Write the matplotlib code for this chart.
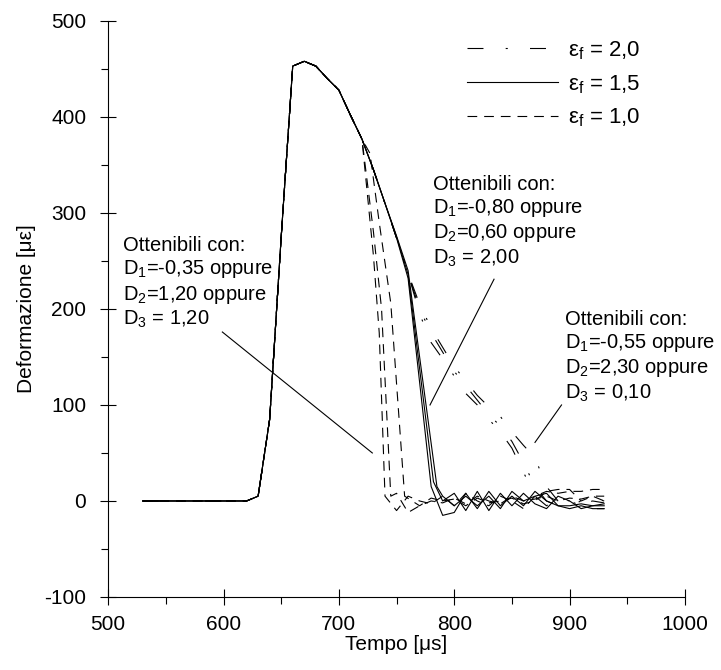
import matplotlib.pyplot as plt
from matplotlib.lines import Line2D

plt.rcParams['font.family'] = ['Liberation Sans', 'DejaVu Sans']
plt.rcParams['mathtext.default'] = 'regular'
plt.rcParams['lines.scale_dashes'] = False
plt.rcParams['axes.unicode_minus'] = False

# shared part of every curve
common_t = [530, 620, 630, 640, 650, 660, 670, 680, 690, 700, 710, 720]
common_v = [0, 0, 5, 85, 275, 453, 458, 453, 440, 428, 402, 377]
mid_t = [730, 740]
mid_v = [345, 310]

# eps_f = 1.0 (dashed)
d10_a_t = [730, 735, 740, 750, 760, 770, 780, 790, 800, 810, 820, 830, 840, 850, 860, 870, 880, 890, 900, 910, 920, 930]
d10_a_v = [255, 175, 5, -10, 5, 0, -3, 5, -5, 8, 0, -5, 5, 0, -8, 5, 10, 8, 10, 10, 12, 12]
d10_b_t = [730, 737, 745, 750, 760, 770, 780, 790, 800, 810, 820, 830, 840, 850, 860, 870, 880, 890, 900, 910, 920, 930]
d10_b_v = [280, 200, 5, 8, -12, -5, 0, -2, 3, -3, 5, 0, -3, 5, 0, 2, 5, 0, 3, 2, 5, 5]
d10_c_t = [727, 735, 745, 757, 770, 780, 790, 800, 810, 820, 830, 840, 850, 860, 870, 880, 890, 900, 910, 920, 930]
d10_c_v = [362, 290, 206, 5, -5, 3, 0, 2, -5, 3, -2, 0, 3, -3, 0, 10, 12, 12, 0, 5, 0]

# eps_f = 1.5 (solid)
s15_a_t = [750, 760, 780, 790, 800, 810, 820, 830, 840, 850, 860, 870, 880, 890, 900, 910, 920, 930]
s15_a_v = [274, 232, 15, -15, -12, 8, -8, 10, -5, 5, -5, 10, 0, -5, -8, -5, -8, -8]
s15_b_t = [750, 760, 782, 790, 800, 810, 820, 830, 840, 850, 860, 870, 880, 890, 900, 910, 920, 930]
s15_b_v = [275, 236, 20, 0, 8, -10, 10, -10, 8, -5, 8, -3, -8, 5, 0, -8, -5, -5]
s15_c_t = [750, 760, 785, 790, 800, 810, 820, 830, 840, 850, 860, 870, 880, 890, 900, 910, 920, 930]
s15_c_v = [276, 240, 15, 5, -5, 5, -5, 5, -8, 10, 0, 5, 8, -5, -5, -3, -5, -3]

# eps_f = 2.0 (dash-dot)
d20_t = [750, 760, 770, 780, 790, 800, 810, 820, 830, 840, 850, 860, 870, 880, 890, 900, 910, 920, 930]
d20_a_v = [274, 237, 200, 175, 155, 135, 120, 105, 90, 78, 62, 40, 15, 0, -5, 0, -5, -8, -8]
d20_b_v = [274, 237, 195, 165, 148, 130, 112, 100, 85, 72, 55, 30, 5, -5, 3, 0, -3, 0, -2]
d20_c_v = [274, 237, 205, 180, 160, 140, 125, 110, 98, 88, 72, 58, 45, 15, 0, -5, 0, 3, 0]

labels = ['ε$_f$ = 2,0', 'ε$_f$ = 1,5', 'ε$_f$ = 1,0']

dashdot = (0, (11.5, 16, 1.5, 16))
dashed = (0, (7, 5))

fig = plt.figure(figsize=(7.21, 6.70), dpi=100)
ax = fig.add_axes([0.15, 0.109, 0.80, 0.8597])

for v in [d20_a_v, d20_b_v, d20_c_v]:
    ax.plot(common_t + mid_t + d20_t, common_v + mid_v + v, color='k', lw=0.8, linestyle=dashdot)
for t, v in [(s15_a_t, s15_a_v), (s15_b_t, s15_b_v), (s15_c_t, s15_c_v)]:
    ax.plot(common_t + mid_t + t, common_v + mid_v + v, color='k', lw=0.8)
for t, v in [(d10_a_t, d10_a_v), (d10_b_t, d10_b_v), (d10_c_t, d10_c_v)]:
    ax.plot(common_t + t, common_v + v, color='k', lw=0.8, linestyle=dashed)

handles = [Line2D([], [], color='k', lw=0.8, linestyle=dashdot),
           Line2D([], [], color='k', lw=0.8),
           Line2D([], [], color='k', lw=0.8, linestyle=dashed)]
ax.legend(handles, labels, loc='upper left', bbox_to_anchor=(811, 481), bbox_transform=ax.transData,
          frameon=False, fontsize=16, handlelength=4.1, handletextpad=0.45, labelspacing=0.5,
          borderpad=0, borderaxespad=0)

fs = 14.5
ax.text(513, 227, 'Ottenibili con:\nD$_1$=-0,35 oppure\nD$_2$=1,20 oppure\nD$_3$ = 1,20',
        fontsize=fs, va='center', ha='left')
ax.plot([599, 729], [176, 50], color='k', lw=0.8)
ax.text(782, 291, 'Ottenibili con:\nD$_1$=-0,80 oppure\nD$_2$=0,60 oppure\nD$_3$ = 2,00',
        fontsize=fs, va='center', ha='left')
ax.plot([834.5, 779], [231, 100], color='k', lw=0.8)
ax.text(896, 150, 'Ottenibili con:\nD$_1$=-0,55 oppure\nD$_2$=2,30 oppure\nD$_3$ = 0,10',
        fontsize=fs, va='center', ha='left', clip_on=False)
ax.plot([893, 870], [100, 61], color='k', lw=0.8)

ax.set_xlim(500, 1000)
ax.set_ylim(-100, 500)
ax.set_xticks(range(500, 1001, 100))
ax.set_xticks(range(550, 1000, 100), minor=True)
ax.set_yticks(range(-100, 501, 100))
ax.set_yticks(range(-50, 500, 100), minor=True)
ax.spines['top'].set_visible(False)
ax.spines['right'].set_visible(False)
for s in ['left', 'bottom']:
    ax.spines[s].set_linewidth(0.8)
ax.tick_params(which='major', direction='inout', length=11.5, width=0.8, labelsize=15)
ax.tick_params(axis='x', which='major', pad=7)
ax.tick_params(axis='y', which='major', pad=10)
ax.tick_params(which='minor', direction='out', length=5, width=0.8)
ax.set_xlabel('Tempo [μs]', fontsize=15, labelpad=1)
ax.set_ylabel('Deformazione [με]', fontsize=15, labelpad=6)

fig.savefig('out.png', dpi=100)
